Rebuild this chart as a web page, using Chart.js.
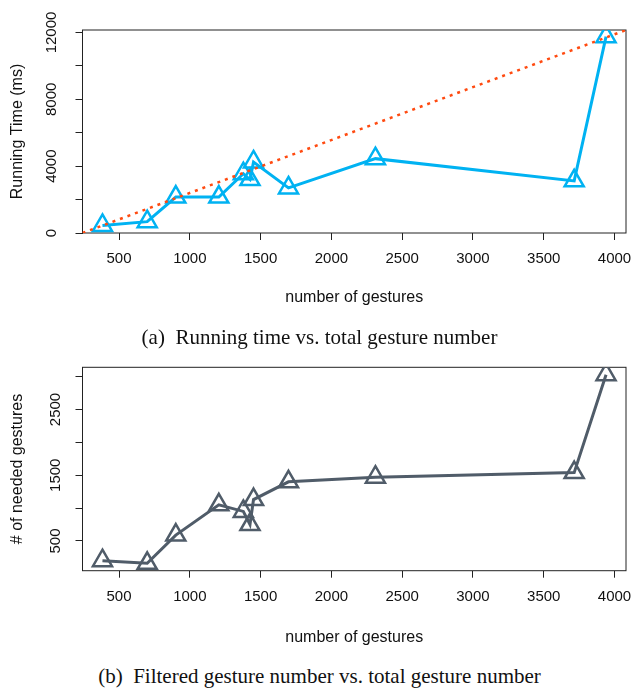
<!DOCTYPE html>
<html>
<head>
<meta charset="utf-8">
<script src="https://cdn.jsdelivr.net/npm/chart.js@4.4.1/dist/chart.umd.min.js"></script>
<style>
  body { margin: 0; background: #fff; width: 631px; height: 688px; position: relative; overflow: hidden; }
  canvas { position: absolute; left: 0; }
  #runChart { top: 0; }
  #neededChart { top: 340px; }
  .cap { position: absolute; left: 4px; width: 631px; text-align: center; font-family: "Liberation Serif", "Times New Roman", serif; font-size: 21px; line-height: 24px; color: #111; }
</style>
</head>
<body>
<canvas id="runChart" width="631" height="310"></canvas>
<canvas id="neededChart" width="631" height="310"></canvas>
<div class="cap" style="top:325px">(a)&nbsp; Running time vs. total gesture number</div>
<div class="cap" style="top:664px">(b)&nbsp; Filtered gesture number vs. total gesture number</div>
<script>
// данные
const gestures = [383, 699, 901, 1205, 1378, 1425, 1450, 1697, 2311, 3715, 3940];
const runTime = [450, 680, 2150, 2150, 3550, 3200, 4250, 2700, 4450, 3120, 11750];
const neededGestures = [200, 160, 590, 1050, 950, 750, 1130, 1400, 1470, 1540, 3030];

// пунктирная опорная линия (от угла до угла)
const refX = [242, 4081];
const refY = [0, 12150];

// деления осей
const xTicks = [500, 1000, 1500, 2000, 2500, 3000, 3500, 4000];
const timeTicks = [0, 2000, 4000, 6000, 8000, 10000, 12000];
const timeLabels = [0, 4000, 8000, 12000];
const neededTicks = [500, 1000, 1500, 2000, 2500, 3000];
const neededLabels = [500, 1500, 2500];

const FONT = { family: '"Liberation Sans", Arial, sans-serif', size: 15 };
const TITLE_FONT = { family: '"Liberation Sans", Arial, sans-serif', size: 16 };
const INK = '#111';

// рамка вокруг области графика, как box() в R
const boxPlugin = {
    id: 'box',
    beforeDatasetsDraw(chart) {
        const { ctx, chartArea: a } = chart;
        ctx.save();
        ctx.strokeStyle = '#222';
        ctx.lineWidth = 1;
        ctx.strokeRect(a.left, a.top, a.right - a.left, a.bottom - a.top);
        ctx.restore();
    }
};

function toPoints(xs, ys) {
    return xs.map((x, i) => ({ x: x, y: ys[i] }));
}

function makeChart(id, cfg) {
    const ctx = document.getElementById(id).getContext('2d');
    return new Chart(ctx, {
        type: 'scatter',
        data: { datasets: cfg.datasets },
        options: {
            responsive: false,
            animation: false,
            devicePixelRatio: 1,
            layout: {
                autoPadding: false,
                padding: { left: 0, right: 5, top: cfg.padTop, bottom: cfg.padBottom }
            },
            plugins: { legend: { display: false }, tooltip: { enabled: false } },
            scales: {
                x: {
                    type: 'linear',
                    min: 242,
                    max: 4081,
                    afterBuildTicks: s => { s.ticks = xTicks.map(v => ({ value: v })); },
                    afterFit: s => {
                        s.height = cfg.xHeight;
                        s.paddingLeft = 0;
                        s.paddingRight = 0;
                    },
                    border: { display: false },
                    grid: { drawOnChartArea: false, tickLength: 7, tickColor: '#222' },
                    ticks: {
                        autoSkip: false,
                        maxRotation: 0,
                        padding: 10,
                        font: FONT,
                        color: INK,
                        callback: v => String(v)
                    },
                    title: { display: true, text: 'number of gestures', font: TITLE_FONT, color: INK, padding: { top: 0, bottom: 0 } }
                },
                y: {
                    type: 'linear',
                    min: cfg.yMin,
                    max: cfg.yMax,
                    afterBuildTicks: s => { s.ticks = cfg.yTicks.map(v => ({ value: v })); },
                    afterFit: s => {
                        s.width = 82.5;
                        s.paddingTop = 0;
                        s.paddingBottom = 0;
                    },
                    border: { display: false },
                    grid: { drawOnChartArea: false, tickLength: 7, tickColor: '#222' },
                    ticks: {
                        autoSkip: false,
                        minRotation: 90,
                        maxRotation: 90,
                        crossAlign: 'center',
                        font: FONT,
                        color: INK,
                        callback: v => cfg.yLabels.includes(v) ? String(v) : ''
                    },
                    title: { display: true, text: cfg.yTitle, font: TITLE_FONT, color: INK, padding: { top: 8, bottom: 0 } }
                }
            }
        },
        plugins: [boxPlugin]
    });
}

// (a) время работы
makeChart('runChart', {
    padTop: 30,
    padBottom: 3,
    xHeight: 74,
    yMin: 0,
    yMax: 12150,
    yTicks: timeTicks,
    yLabels: timeLabels,
    yTitle: 'Running Time (ms)',
    datasets: [
        {
            data: toPoints(refX, refY),
            showLine: true,
            borderColor: '#ff4a10',
            borderWidth: 2.5,
            borderDash: [3, 5],
            pointRadius: 0
        },
        {
            data: toPoints(gestures, runTime),
            showLine: true,
            borderColor: '#00b2f2',
            borderWidth: 3,
            pointStyle: 'triangle',
            pointRadius: 11,
            pointBorderWidth: 2.5,
            pointBorderColor: '#00b2f2',
            pointBackgroundColor: 'rgba(0,0,0,0)'
        }
    ]
});

// (b) нужное число жестов
makeChart('neededChart', {
    padTop: 27.3,
    padBottom: 3.3,
    xHeight: 76,
    yMin: 48,
    yMax: 3142,
    yTicks: neededTicks,
    yLabels: neededLabels,
    yTitle: '# of needed gestures',
    datasets: [
        {
            data: toPoints(gestures, neededGestures),
            showLine: true,
            borderColor: '#505c69',
            borderWidth: 3,
            pointStyle: 'triangle',
            pointRadius: 11,
            pointBorderWidth: 2.5,
            pointBorderColor: '#505c69',
            pointBackgroundColor: 'rgba(0,0,0,0)'
        }
    ]
});
</script>
</body>
</html>
